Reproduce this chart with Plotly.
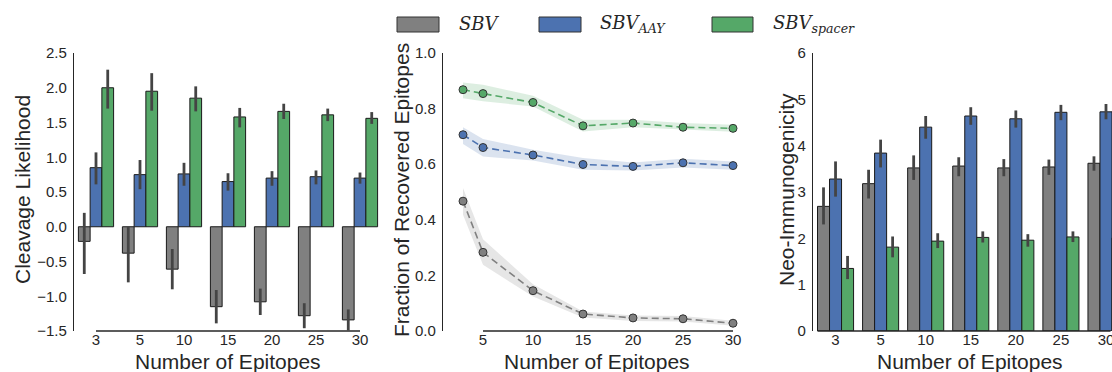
import plotly.graph_objects as go

W, H = 1112, 372

# ---------------- data ----------------
cats = ["3", "5", "10", "15", "20", "25", "30"]
n_epitopes = [3, 5, 10, 15, 20, 25, 30]

cl_sbv = [-0.21, -0.38, -0.61, -1.15, -1.08, -1.28, -1.34]
cl_sbv_hi = [0.20, 0.00, -0.32, -0.91, -0.89, -1.10, -1.19]
cl_sbv_lo = [-0.68, -0.80, -0.90, -1.39, -1.27, -1.46, -1.49]
cl_aay = [0.85, 0.75, 0.76, 0.65, 0.70, 0.72, 0.70]
cl_aay_hi = [1.07, 0.96, 0.92, 0.77, 0.80, 0.81, 0.78]
cl_aay_lo = [0.61, 0.54, 0.59, 0.52, 0.59, 0.61, 0.62]
cl_spc = [2.00, 1.95, 1.85, 1.58, 1.66, 1.61, 1.56]
cl_spc_hi = [2.26, 2.21, 2.02, 1.71, 1.77, 1.70, 1.65]
cl_spc_lo = [1.70, 1.67, 1.66, 1.43, 1.55, 1.52, 1.48]

fr_sbv = [0.467, 0.283, 0.145, 0.061, 0.047, 0.044, 0.028]
fr_sbv_hi = [0.514, 0.330, 0.168, 0.070, 0.056, 0.054, 0.037]
fr_sbv_lo = [0.418, 0.238, 0.124, 0.049, 0.036, 0.034, 0.019]
fr_aay = [0.706, 0.660, 0.633, 0.599, 0.592, 0.605, 0.595]
fr_aay_hi = [0.733, 0.691, 0.652, 0.622, 0.606, 0.620, 0.610]
fr_aay_lo = [0.673, 0.628, 0.613, 0.580, 0.577, 0.588, 0.580]
fr_spc = [0.868, 0.854, 0.822, 0.738, 0.748, 0.733, 0.729]
fr_spc_hi = [0.894, 0.886, 0.846, 0.760, 0.760, 0.748, 0.742]
fr_spc_lo = [0.837, 0.826, 0.808, 0.718, 0.733, 0.724, 0.717]

ni_sbv = [2.69, 3.18, 3.52, 3.56, 3.52, 3.54, 3.62]
ni_sbv_hi = [3.10, 3.48, 3.79, 3.75, 3.71, 3.70, 3.77]
ni_sbv_lo = [2.30, 2.86, 3.26, 3.34, 3.34, 3.37, 3.46]
ni_aay = [3.28, 3.84, 4.40, 4.64, 4.58, 4.72, 4.73]
ni_aay_hi = [3.66, 4.13, 4.64, 4.83, 4.76, 4.88, 4.90]
ni_aay_lo = [2.90, 3.53, 4.15, 4.45, 4.39, 4.55, 4.57]
ni_spc = [1.35, 1.81, 1.94, 2.02, 1.96, 2.03, 2.01]
ni_spc_hi = [1.62, 2.04, 2.11, 2.15, 2.09, 2.15, 2.15]
ni_spc_lo = [1.12, 1.59, 1.79, 1.91, 1.82, 1.92, 1.88]

C_GRAY, C_BLUE, C_GREEN = "#808080", "#4c72b0", "#55a868"
BAND = {C_GRAY: "rgba(128,128,128,0.2)", C_BLUE: "rgba(76,114,176,0.2)",
        C_GREEN: "rgba(85,168,104,0.2)"}
TXT = "#262626"
FONT = "Liberation Sans, Arial, sans-serif"


def fx(px):
    return px / W


def fy(py):
    return 1 - py / H


fig = go.Figure()


def add_bars(vals, hi, lo, color, xa, ya):
    fig.add_trace(go.Bar(
        x=cats, y=vals, xaxis=xa, yaxis=ya,
        marker=dict(color=color, line=dict(color="#1a1a1a", width=1)),
        error_y=dict(type="data", symmetric=False,
                     array=[h - v for h, v in zip(hi, vals)],
                     arrayminus=[v - l for v, l in zip(vals, lo)],
                     thickness=2.8, width=0, color="#444444"),
        showlegend=False, hoverinfo="skip"))


add_bars(cl_sbv, cl_sbv_hi, cl_sbv_lo, C_GRAY, "x", "y")
add_bars(cl_aay, cl_aay_hi, cl_aay_lo, C_BLUE, "x", "y")
add_bars(cl_spc, cl_spc_hi, cl_spc_lo, C_GREEN, "x", "y")

add_bars(ni_sbv, ni_sbv_hi, ni_sbv_lo, C_GRAY, "x3", "y3")
add_bars(ni_aay, ni_aay_hi, ni_aay_lo, C_BLUE, "x3", "y3")
add_bars(ni_spc, ni_spc_hi, ni_spc_lo, C_GREEN, "x3", "y3")


def add_line(vals, hi, lo, color):
    fig.add_trace(go.Scatter(x=n_epitopes, y=hi, xaxis="x2", yaxis="y2",
                             mode="lines", line=dict(width=0, color=color),
                             showlegend=False, hoverinfo="skip"))
    fig.add_trace(go.Scatter(x=n_epitopes, y=lo, xaxis="x2", yaxis="y2",
                             mode="lines", line=dict(width=0, color=color),
                             fill="tonexty", fillcolor=BAND[color],
                             showlegend=False, hoverinfo="skip"))
    fig.add_trace(go.Scatter(x=n_epitopes, y=vals, xaxis="x2", yaxis="y2",
                             mode="lines+markers",
                             line=dict(color=color, width=1.6, dash="7px,4px"),
                             marker=dict(size=8, color=color,
                                         line=dict(color="#333333", width=1)),
                             showlegend=False, hoverinfo="skip"))


add_line(fr_sbv, fr_sbv_hi, fr_sbv_lo, C_GRAY)
add_line(fr_aay, fr_aay_hi, fr_aay_lo, C_BLUE)
add_line(fr_spc, fr_spc_hi, fr_spc_lo, C_GREEN)

ydom = [fy(331), fy(53)]
tickfont = dict(family=FONT, size=15, color=TXT)
common_x = dict(showgrid=False, zeroline=False, showline=False,
                ticks="", ticklabelstandoff=-2,
                tickfont=tickfont, automargin=False)
common_y = dict(domain=ydom, showgrid=False, zeroline=False, showline=True,
                linecolor="#262626", linewidth=1.3, ticks="outside",
                ticklen=3, tickcolor="rgba(0,0,0,0)", tickfont=tickfont,
                automargin=False)

fig.update_layout(
    width=W, height=H, autosize=False,
    margin=dict(l=0, r=0, t=0, b=0, pad=0, autoexpand=False),
    paper_bgcolor="white", plot_bgcolor="white",
    barmode="group", bargap=0.2, bargroupgap=0, showlegend=False,
    xaxis=dict(domain=[fx(74), fx(382)], type="category", range=[-0.5, 6.5],
               anchor="y", **common_x),
    yaxis=dict(range=[-1.5, 2.5], dtick=0.5, tickformat=".1f", anchor="x",
               **common_y),
    xaxis2=dict(domain=[fx(443), fx(760)], range=[1, 32.7],
                tickvals=[5, 10, 15, 20, 25, 30], anchor="y2", **common_x),
    yaxis2=dict(range=[0, 1], dtick=0.2, tickformat=".1f", anchor="x2",
                **common_y),
    xaxis3=dict(domain=[fx(813), 1.0], type="category",
                range=[-0.5, -0.5 + (W - 813.5) / 45.0],
                anchor="y3", **common_x),
    yaxis3=dict(range=[0, 6], dtick=1, anchor="x3", **common_y),
)

# trimmed bottom spines
spine = dict(type="line", line=dict(color="#262626", width=1.3))
fig.add_shape(xref="x", yref="y domain", x0=0, x1=6, y0=0, y1=0, **spine)
fig.add_shape(xref="x2", yref="y2 domain", x0=5, x1=30, y0=0, y1=0, **spine)
fig.add_shape(xref="x3", yref="y3 domain", x0=-0.4, x1=6.1, y0=0, y1=0, **spine)

# axis titles
tfont = dict(family=FONT, size=21, color=TXT)
for xc in (228, 597, 970):
    fig.add_annotation(xref="paper", yref="paper", x=fx(xc), y=fy(361),
                       text="Number of Epitopes", showarrow=False,
                       xanchor="center", yanchor="middle", font=tfont)
for xc, t in ((22, "Cleavage Likelihood"), (401, "Fraction of Recovered Epitopes"),
              (786, "Neo-Immunogenicity")):
    fig.add_annotation(xref="paper", yref="paper", x=fx(xc), y=fy(190),
                       text=t, textangle=-90, showarrow=False,
                       xanchor="center", yanchor="middle", font=tfont)

# legend
lfont = dict(family="DejaVu Serif, serif", size=18, color=TXT)
legend_items = [
    (397, 439, 457, C_GRAY, "<i>SBV</i>"),
    (539, 581, 598, C_BLUE, "<i>SBV</i><sub><i>AAY</i></sub>"),
    (712, 753, 771, C_GREEN, "<i>SBV</i><sub><i>spacer</i></sub>"),
]
for x0, x1, tx, col, label in legend_items:
    fig.add_shape(type="rect", xref="paper", yref="paper",
                  x0=fx(x0), x1=fx(x1), y0=fy(32), y1=fy(17),
                  fillcolor=col, line=dict(color="#333333", width=1))
    fig.add_annotation(xref="paper", yref="paper", x=fx(tx), y=fy(24),
                       text=label, showarrow=False, xanchor="left",
                       yanchor="middle", font=lfont)

fig.write_html("out.html")
